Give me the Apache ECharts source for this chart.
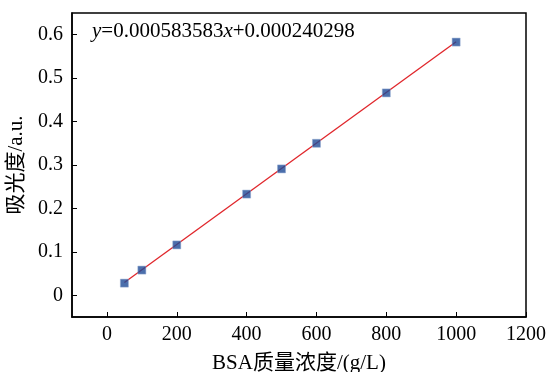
<!DOCTYPE html>
<html><head><meta charset="utf-8">
<script src="https://cdn.jsdelivr.net/npm/echarts@6/dist/echarts.min.js"></script>
<style>html,body{margin:0;padding:0;background:#fff}#c{width:552px;height:372px}</style>
</head><body><div id="c"></div>
<script>
const concentrations = [50, 100, 200, 400, 500, 600, 800, 1000];
const absorbance = [0.028, 0.058, 0.116, 0.233, 0.291, 0.350, 0.466, 0.583];
const fitX = [50, 1000];
const fitY = [0.0294, 0.5838];
const xTicks = [0, 200, 400, 600, 800, 1000, 1200];
const yTicks = [0, 0.1, 0.2, 0.3, 0.4, 0.5, 0.6];
const xName = 'BSA质量浓度/(g/L)';
const yName = '吸光度/a.u.';
const equation = { slope: '0.000583583', intercept: '0.000240298' };

const FONT = '"Liberation Serif","Noto Sans CJK SC",serif';
const chart = echarts.init(document.getElementById('c'), null, {renderer: 'canvas'});
chart.setOption({
  animation: false,
  grid: {left: 72, top: 13, right: 26, bottom: 55, outerBoundsMode: 'none', containLabel: false,
         show: true, borderColor: '#000', borderWidth: 1.5},
  xAxis: {
    type: 'value', min: -100, max: 1200,
    name: xName, nameLocation: 'middle', nameGap: 36,
    nameTextStyle: {fontFamily: FONT, fontSize: 21, color: '#000'},
    axisLine: {show: true, onZero: false, lineStyle: {color: '#000', width: 1.5}},
    axisTick: {show: true, inside: true, length: 5, customValues: xTicks, lineStyle: {color: '#000'}},
    axisLabel: {customValues: xTicks, fontFamily: FONT, fontSize: 20, color: '#000', margin: 8,
                formatter: v => String(v)},
    splitLine: {show: false}
  },
  yAxis: {
    type: 'value', min: -0.05, max: 0.65,
    name: yName, nameLocation: 'middle', nameGap: 43, nameRotate: 90,
    nameTextStyle: {fontFamily: FONT, fontSize: 21, color: '#000'},
    axisLine: {show: true, onZero: false, lineStyle: {color: '#000', width: 1.5}},
    axisTick: {show: true, inside: true, length: 5, customValues: yTicks, lineStyle: {color: '#000'}},
    axisLabel: {customValues: yTicks, fontFamily: FONT, fontSize: 20, color: '#000', margin: 9,
                formatter: v => String(v)},
    splitLine: {show: false}
  },
  series: [
    {type: 'line', data: fitX.map((x, i) => [x, fitY[i]]), symbol: 'none',
     lineStyle: {color: '#e0262b', width: 1.3}, z: 2},
    {type: 'scatter', data: concentrations.map((x, i) => [x, absorbance[i]]),
     symbol: 'rect', symbolSize: 8,
     itemStyle: {color: '#1e4a96', borderColor: '#8ea6cf', borderWidth: 0.6}, z: 3}
  ],
  graphic: [{
    type: 'text', left: 92, top: 21,
    style: {
      text: '{i|y}=' + equation.slope + '{i|x}+' + equation.intercept,
      fontFamily: FONT, fontSize: 21, fill: '#000',
      rich: {i: {fontFamily: FONT, fontStyle: 'italic', fontSize: 21, fill: '#000'}}
    }
  }]
});
</script></body></html>
